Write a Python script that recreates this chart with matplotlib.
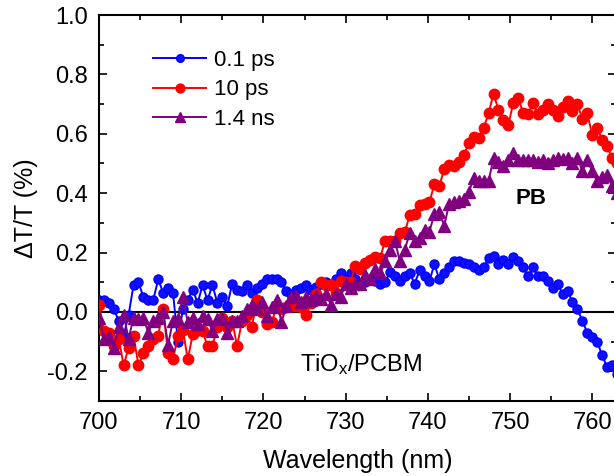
import numpy as np
import matplotlib
matplotlib.use("Agg")
import matplotlib.pyplot as plt
from matplotlib.ticker import MultipleLocator

plt.rcParams['font.family'] = ['Liberation Sans', 'DejaVu Sans']
plt.rcParams['mathtext.fontset'] = 'custom'
plt.rcParams['mathtext.rm'] = 'Liberation Sans'
plt.rcParams['mathtext.it'] = 'Liberation Sans'

# wavelength grid (nm)
wavelength = np.round(np.arange(700.0, 763.001, 0.6), 2)

series_labels = ["0.1 ps", "10 ps", "1.4 ns"]

dT_01ps = [
    0.04, 0.04, 0.03, 0.01, -0.03, -0.08, -0.01, 0.09, 0.10, 0.05,
    0.04, 0.04, 0.11, 0.065, 0.08, 0.065, -0.10, 0.01, 0.04, 0.075,
    0.03, 0.09, 0.04, 0.09, 0.03, 0.05, 0.02, 0.095, 0.075, 0.07,
    0.09, 0.065, 0.08, 0.095, 0.11, 0.11, 0.11, 0.10, 0.07, 0.06,
    0.075, 0.08, 0.09, 0.075, 0.085, 0.095, 0.10, 0.09, 0.11, 0.13,
    0.11, 0.13, 0.11, 0.095, 0.10, 0.11, 0.105, 0.095, 0.10, 0.135,
    0.12, 0.105, 0.12, 0.13, 0.095, 0.14, 0.12, 0.105, 0.16, 0.11,
    0.13, 0.15, 0.17, 0.17, 0.165, 0.16, 0.15, 0.14, 0.15, 0.18,
    0.19, 0.16, 0.175, 0.16, 0.185, 0.17, 0.15, 0.12, 0.15, 0.12,
    0.12, 0.105, 0.08, 0.095, 0.06, 0.07, 0.035, 0.01, -0.03, -0.07,
    -0.085, -0.10, -0.145, -0.185, -0.18, -0.21,
]

dT_10ps = [
    0.025, -0.065, -0.07, -0.115, -0.09, -0.18, -0.12, -0.08, -0.18, -0.14,
    -0.115, -0.09, -0.08, 0.01, -0.14, -0.16, -0.08, -0.06, -0.16, -0.075,
    -0.06, -0.065, -0.115, -0.115, -0.05, -0.02, -0.05, -0.03, -0.115, -0.03,
    -0.01, -0.05, 0.04, 0.00, -0.04, -0.035, 0.015, 0.01, 0.015, 0.02,
    0.02, 0.015, -0.01, 0.03, 0.06, 0.10, 0.09, 0.09, 0.065, 0.105,
    0.10, 0.10, 0.155, 0.145, 0.165, 0.175, 0.185, 0.18, 0.24, 0.24,
    0.24, 0.265, 0.27, 0.325, 0.33, 0.36, 0.365, 0.37, 0.43, 0.425,
    0.48, 0.495, 0.49, 0.505, 0.53, 0.57, 0.59, 0.585, 0.62, 0.67,
    0.735, 0.68, 0.645, 0.63, 0.705, 0.72, 0.67, 0.665, 0.705, 0.665,
    0.68, 0.70, 0.68, 0.66, 0.69, 0.71, 0.675, 0.70, 0.65, 0.67,
    0.595, 0.62, 0.58, 0.56, 0.52, 0.50,
]

dT_14ns = [
    -0.02, -0.09, -0.085, -0.12, -0.05, -0.01, -0.09, -0.02, -0.025, -0.02,
    -0.07, -0.03, -0.02, 0.00, -0.11, -0.03, -0.025, 0.05, -0.035, -0.02,
    -0.04, -0.015, -0.025, -0.065, -0.025, -0.02, -0.07, -0.03, -0.03, -0.015,
    0.01, 0.025, 0.01, 0.035, -0.015, 0.015, 0.04, -0.035, 0.02, 0.05,
    0.055, 0.035, 0.05, 0.04, 0.055, 0.045, 0.06, 0.025, 0.06, 0.05,
    0.095, 0.08, 0.095, 0.095, 0.125, 0.11, 0.145, 0.13, 0.17, 0.21,
    0.24, 0.17, 0.21, 0.265, 0.24, 0.25, 0.275, 0.27, 0.33, 0.335,
    0.29, 0.365, 0.37, 0.375, 0.38, 0.405, 0.45, 0.44, 0.44, 0.44,
    0.52, 0.505, 0.49, 0.51, 0.535, 0.51, 0.51, 0.51, 0.51, 0.505,
    0.51, 0.50, 0.51, 0.52, 0.515, 0.52, 0.50, 0.52, 0.475, 0.51,
    0.475, 0.44, 0.455, 0.46, 0.425, 0.40,
]

W, H = 614, 476
fig = plt.figure(figsize=(W / 100, H / 100), dpi=100)
x0, x1, ytop, ybot = 99, 616, 15, 401
ax = fig.add_axes([x0 / W, 1 - ybot / H, (x1 - x0) / W, (ybot - ytop) / H])

ax.axhline(0, color='black', lw=1.5, zorder=1)

ax.plot(wavelength, dT_01ps, '-o', color='#0000FF', lw=1.4, ms=6.5,
        mfc='#1010FF', mec='#0000FF', label=series_labels[0], zorder=3)
ax.plot(wavelength, dT_10ps, '-o', color='#FF0000', lw=1.4, ms=7.5,
        mec='#FF0000', label=series_labels[1], zorder=3)
ax.plot(wavelength, dT_14ns, '-^', color='#800080', lw=1.4, ms=8,
        mec='#800080', label=series_labels[2], zorder=4)

ax.set_xlim(700, 700 + (x1 - x0) / 8.22)
ax.set_ylim(-0.3, 1.0)
ax.xaxis.set_major_locator(MultipleLocator(10))
ax.xaxis.set_minor_locator(MultipleLocator(5))
ax.yaxis.set_major_locator(MultipleLocator(0.2))
ax.yaxis.set_minor_locator(MultipleLocator(0.1))
ax.tick_params(which='both', direction='in', top=True, right=True,
               labelsize=17, pad=8)
ax.tick_params(which='major', length=6, width=1.2)
ax.tick_params(which='minor', length=3.5, width=1.2)
ax.set_yticks([-0.2, 0.0, 0.2, 0.4, 0.6, 0.8, 1.0])
ax.set_yticklabels(['-0.2', '0.0', '0.2', '0.4', '0.6', '0.8', '1.0'])
for s in ax.spines.values():
    s.set_linewidth(1.5)

ax.set_xlabel('Wavelength (nm)', fontsize=18, labelpad=11)
ax.set_ylabel('\u0394T/T (%)', fontsize=18)
ax.yaxis.set_label_coords(-0.118, 0.5)

ax.text(752.55, 0.383, 'PB', fontsize=16, fontweight='bold',
        ha='center', va='center')
ax.text(724.45, -0.20, r'TiO$_\mathrm{x}$/PCBM', fontsize=17,
        ha='left', va='baseline')

leg = ax.legend(loc='upper left', bbox_to_anchor=(153 / W, 1 - 50 / H),
                bbox_transform=fig.transFigure, frameon=False, fontsize=16,
                handlelength=2.4, handletextpad=0.35, labelspacing=0.38,
                borderpad=0, borderaxespad=0, markerscale=0.85)

fig.savefig('out.png', dpi=100)
